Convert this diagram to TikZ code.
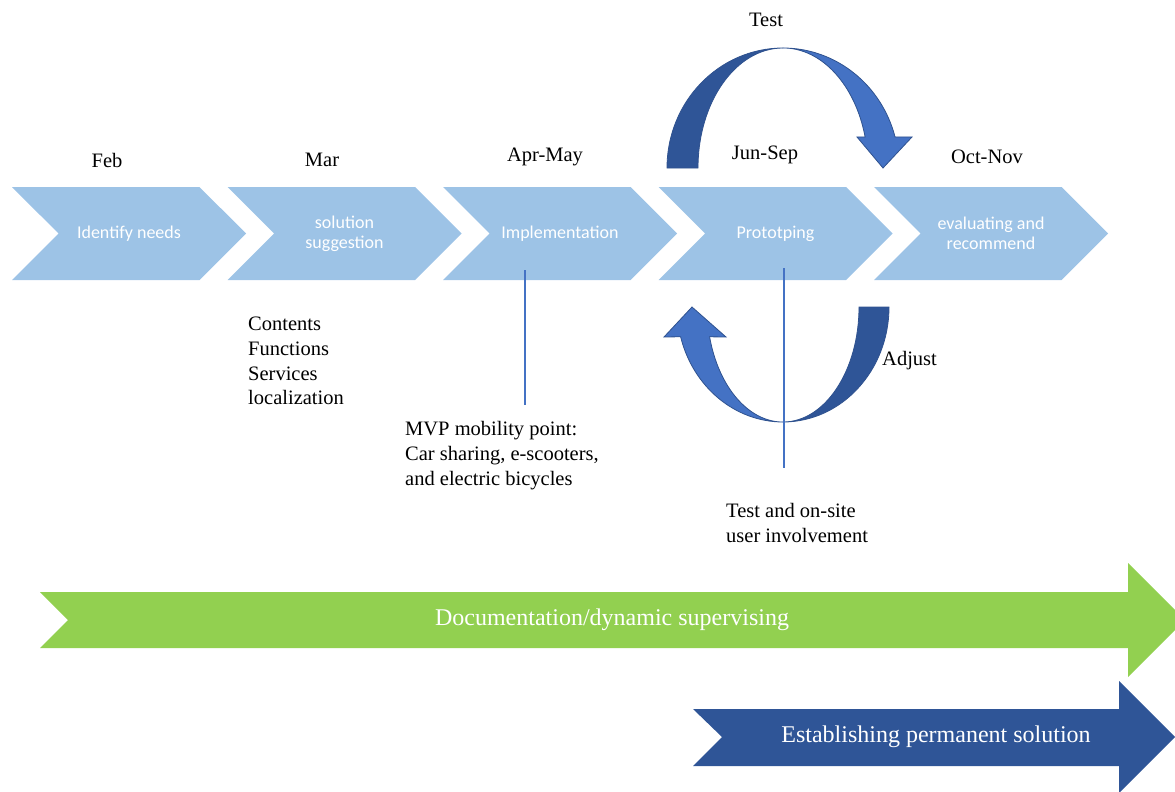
\documentclass[tikz,border=0pt]{standalone}
\usepackage{fontspec}
\setmainfont{Liberation Serif}
\newfontfamily\calibri{Carlito}
\usepackage{xcolor}
\usetikzlibrary{shapes.symbols}
\usetikzlibrary{positioning}

\definecolor{stepblue}{HTML}{9DC3E6}
\definecolor{loopdark}{HTML}{2F5597}
\definecolor{looplight}{HTML}{4472C4}
\definecolor{loopline}{HTML}{2F528F}
\definecolor{docgreen}{HTML}{92D050}

\begin{document}
\begin{tikzpicture}[x=1pt,y=1pt,node distance=215.5pt,
  phase node/.style={signal,signal from=west,signal to=east,signal pointer angle=90,
    minimum width=234pt,minimum height=93pt,inner sep=0pt,fill=stepblue,text=white,
    align=center,font=\calibri\fontsize{18}{20}\selectfont},
  month node/.style={font=\fontsize{20.5}{24.7}\selectfont},
  note node/.style={anchor=west,align=left,inner sep=0pt,font=\fontsize{20.5}{24.7}\selectfont},
  loop back/.style={fill=loopdark,draw=loopline,line width=0.8pt},
  loop front/.style={fill=looplight,draw=loopline,line width=0.8pt},
  band text/.style={text=white,font=\fontsize{24}{28}\selectfont}]

  \useasboundingbox (0,0) rectangle (1175,-792);
  \clip (0,0) rectangle (1175,-792);

  % phases
  \node[phase node] (1) at (129,-233.5) {Identify needs};
  \node[phase node] (2) [right of=1] {solution\\suggestion};
  \node[phase node] (3) [right of=2] {Implementation};
  \node[phase node] (4) [right of=3] {Prototping};
  \node[phase node] (5) [right of=4] {evaluating and\\recommend};

  % months
  \node[month node] (feb) at (107,-160) {Feb};
  \node[month node] (mar) at (322,-160) {Mar};
  \node[month node] (aprmay) at (545,-157) {Apr-May};
  \node[month node] (junsep) at (765,-155) {Jun-Sep};
  \node[month node] (octnov) at (987,-157) {Oct-Nov};

  % test loop (top)
  \path[loop back] (667,-168) arc[start angle=180,end angle=90,x radius=116,y radius=120]
    arc[start angle=90,end angle=180,x radius=85,y radius=120] -- cycle;
  \path[loop front] (783,-48) arc[start angle=90,end angle=15,x radius=116,y radius=120]
    -- (912,-137) -- (883,-168) -- (857,-137) -- (865.1,-136.9)
    arc[start angle=15,end angle=90,x radius=85,y radius=120] -- cycle;
  \node[month node] (test) at (766,-20) {Test};

  % adjust loop (bottom)
  \path[loop back] (889,-307) arc[start angle=0,end angle=-90,x radius=106,y radius=115]
    arc[start angle=-90,end angle=0,x radius=76,y radius=115] -- cycle;
  \path[loop front] (783,-422) arc[start angle=270,end angle=195,x radius=106,y radius=115]
    -- (664,-337) -- (692,-307) -- (726,-337) -- (709.6,-336.8)
    arc[start angle=195,end angle=270,x radius=76,y radius=115] -- cycle;
  \node[note node] (adjust) at (882,-361) {Adjust};

  % markers
  \coordinate (m3top) at (525,-270);
  \coordinate (m3bot) at (525,-405);
  \coordinate (m4top) at (784,-268);
  \coordinate (m4bot) at (784,-468);
  \draw[looplight,line width=2.6pt] (m3top) -- (m3bot);
  \draw[looplight,line width=1.8pt] (m4top) -- (m4bot);

  % notes
  \node[note node] (needs) at (248,-361) {Contents\\Functions\\Services\\localization};
  \node[note node] (mvp) at (405,-455.5) {MVP mobility point:\\Car sharing, e-scooters,\\and electric bicycles};
  \node[note node] (onsite) at (726,-523) {Test and on-site\\user involvement};

  % long arrows
  \path[fill=docgreen] (40,-592) -- (1128,-592) -- (1128,-563) -- (1185,-620)
    -- (1128,-677) -- (1128,-648) -- (40,-648) -- (68,-620) -- cycle;
  \node[band text] (doc) at (612,-620) {Documentation/dynamic supervising};
  \path[fill=loopdark] (693,-709) -- (1119,-709) -- (1119,-681) -- (1175,-737)
    -- (1119,-793) -- (1119,-766) -- (693,-766) -- (722,-737) -- cycle;
  \node[band text] (perm) at (936,-737) {Establishing permanent solution};
\end{tikzpicture}
\end{document}
